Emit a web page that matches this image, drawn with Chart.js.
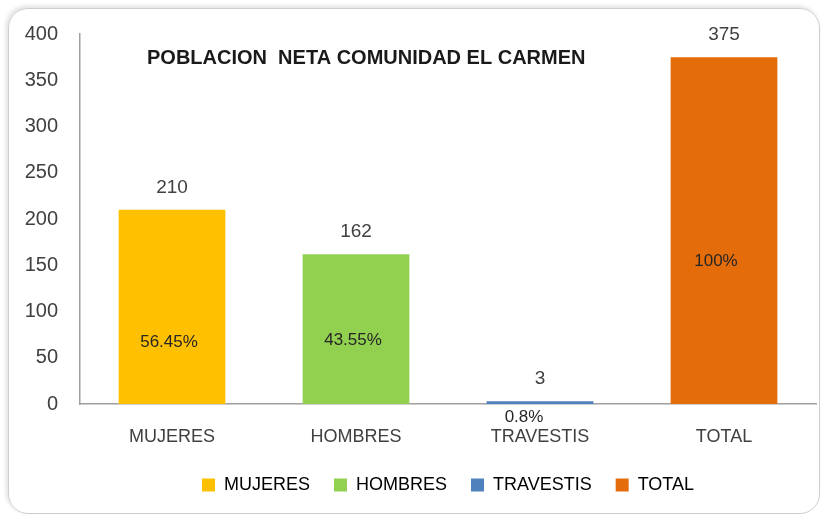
<!DOCTYPE html>
<html>
<head>
<meta charset="utf-8">
<script src="https://cdn.jsdelivr.net/npm/chart.js@4/dist/chart.umd.min.js"></script>
<style>
  html, body { margin: 0; padding: 0; background: #ffffff; }
  #wrap { position: relative; width: 828px; height: 520px; overflow: hidden; background: #fff; }
  #frame { position: absolute; left: 8px; top: 8px; width: 812px; height: 506px; border: 1.5px solid #cfcfcf; border-radius: 20px; box-shadow: -2px -2px 4px rgba(0,0,0,0.12); box-sizing: border-box; }
  canvas { position: absolute; left: 0; top: 0; }
</style>
</head>
<body>
<div id="wrap">
  <div id="frame"></div>
  <canvas id="c" width="828" height="520"></canvas>
</div>
<script>
const chartTitle = 'POBLACION  NETA COMUNIDAD EL CARMEN';
const categories = ['MUJERES', 'HOMBRES', 'TRAVESTIS', 'TOTAL'];
const values = [210, 162, 3, 375];
const percentLabels = ['56.45%', '43.55%', '0.8%', '100%'];
const yTicks = [0, 50, 100, 150, 200, 250, 300, 350, 400];
const colors = ['#FFC000', '#92D050', '#4F81BD', '#E46C0A'];

const FONT = '"Liberation Sans", Arial, sans-serif';

const labelPlugin = {
  id: 'labelPlugin',
  afterDatasetsDraw(chart, args, opts) {
    const ctx = chart.ctx;
    const meta = chart.getDatasetMeta(0);
    const yScale = chart.scales.y;
    ctx.save();
    ctx.textAlign = 'center';
    ctx.textBaseline = 'middle';
    meta.data.forEach((bar, i) => {
      ctx.font = '19px ' + FONT;
      ctx.fillStyle = '#404040';
      ctx.fillText(String(values[i]), bar.x, bar.y - 22);
      ctx.font = '17px ' + FONT;
      ctx.fillStyle = '#262626';
      const py = yScale.getPixelForValue(opts.pctAt[i]);
      ctx.fillText(percentLabels[i], bar.x + opts.pctDx[i], py);
    });
    ctx.font = 'bold 20px ' + FONT;
    ctx.fillStyle = '#1a1a1a';
    ctx.textAlign = 'left';
    ctx.fillText(chartTitle, 147, 58, 453);
    ctx.restore();
  }
};

new Chart(document.getElementById('c'), {
  type: 'bar',
  data: {
    labels: categories,
    datasets: [{
      label: 'Población',
      data: values,
      backgroundColor: colors,
      borderWidth: 0,
      categoryPercentage: 1.0,
      barPercentage: 0.58
    }]
  },
  options: {
    responsive: false,
    animation: false,
    devicePixelRatio: 1,
    layout: { padding: { left: 0, right: 12, top: 34, bottom: 16 } },
    scales: {
      x: {
        grid: { display: false, drawTicks: false },
        border: { display: true, color: '#a0a0a0', width: 1.5 },
        ticks: { color: '#404040', font: { family: FONT, size: 18 }, padding: 22, maxRotation: 0, autoSkip: false },
        afterFit(scale) { scale.height = 48; }
      },
      y: {
        min: 0, max: 400,
        afterBuildTicks(scale) { scale.ticks = yTicks.map(v => ({ value: v })); },
        grid: { display: false, drawTicks: false },
        border: { display: true, color: '#a0a0a0', width: 1.5 },
        ticks: { color: '#404040', font: { family: FONT, size: 20 }, padding: 22 },
        afterFit(scale) { scale.width = 80; }
      }
    },
    plugins: {
      title: { display: false },
      tooltip: { enabled: false },
      legend: {
        display: true,
        position: 'bottom',
        fullSize: false,
        onClick: null,
        labels: {
          boxWidth: 13,
          boxHeight: 13,
          padding: 24,
          color: '#404040',
          font: { family: FONT, size: 18 },
          generateLabels(chart) {
            return categories.map((c, i) => ({
              text: c, fillStyle: colors[i], strokeStyle: colors[i], lineWidth: 0, hidden: false, index: i
            }));
          }
        }
      },
      labelPlugin: {
        pctAt: [66.5, 68.8, -14.5, 154],
        pctDx: [-3, -3, -16, -8]
      }
    }
  },
  plugins: [labelPlugin]
});
</script>
</body>
</html>
